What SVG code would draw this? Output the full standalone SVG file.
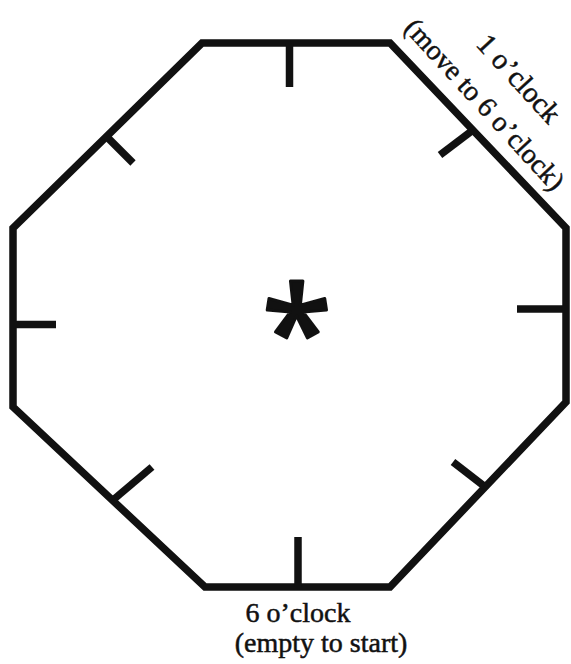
<svg xmlns="http://www.w3.org/2000/svg" width="571" height="664" viewBox="0 0 571 664">
<style>
.ln{fill:none;stroke:#111;stroke-width:7.5;stroke-linejoin:miter;stroke-linecap:butt}
.t{font-family:"Liberation Serif","Times New Roman",serif;fill:#111;stroke:#111;stroke-width:0.5}
.star{font-family:"Noto Sans",sans-serif;fill:#111;stroke:#111;stroke-width:3;stroke-linejoin:round}
</style>
<rect width="571" height="664" fill="#fff"/>
<g id="octagon">
<polygon class="ln" points="202,43 390,43 566,228 566,402 390,587 205,587 13,407 13,228"/>
</g>
<g id="ticks">
<line class="ln" x1="289.5" y1="43" x2="289.5" y2="87"/>
<line class="ln" x1="298" y1="587" x2="298" y2="537"/>
<line class="ln" x1="13" y1="324.5" x2="56" y2="324.5"/>
<line class="ln" x1="566" y1="309" x2="517" y2="309"/>
<line class="ln" x1="107" y1="137" x2="133" y2="163"/>
<line class="ln" x1="473" y1="130" x2="440" y2="155"/>
<line class="ln" x1="113" y1="500" x2="152" y2="467"/>
<line class="ln" x1="484" y1="486" x2="453" y2="462"/>
</g>
<g id="center">
<text class="star" x="297" y="377" font-size="127" text-anchor="middle">*</text>
</g>
<g id="label-1">
<text class="t" font-size="29" transform="translate(475,45) rotate(47.5)">1 o’clock</text>
<text class="t" font-size="28" transform="translate(403,29) rotate(47.5)">(move to 6 o’clock)</text>
</g>
<g id="label-6">
<text class="t" font-size="28" x="298" y="622" text-anchor="middle">6 o’clock</text>
<text class="t" font-size="28" x="321" y="652" text-anchor="middle">(empty to start)</text>
</g>
</svg>
